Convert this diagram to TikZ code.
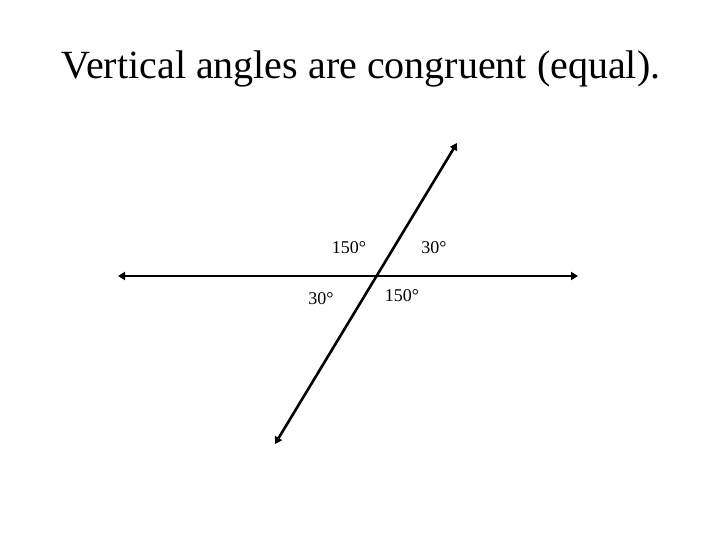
\documentclass[tikz,border=0pt]{standalone}
\usepackage{fontspec}
\setmainfont{Liberation Serif}
\usetikzlibrary{arrows.meta}
\tikzset{
  recta/.style={line width=2.6pt, {Triangle[length=7pt,width=8pt]}-{Triangle[length=7pt,width=8pt]}},
  angulo/.style={font=\fontsize{18}{20}\selectfont, inner sep=0pt}
}
\begin{document}
\begin{tikzpicture}[x=1pt, y=-1pt]
   \useasboundingbox (0,0) rectangle (720,540);
   %titulo
   \node (titulo) at (361,69) {\fontsize{40}{46}\selectfont Vertical angles are congruent (equal).};
   %extremos de las rectas
   \coordinate (hizq) at (118,276);
   \coordinate (hder) at (578,276);
   \coordinate (sarr) at (457,143);
   \coordinate (sabj) at (275,444);
   %rectas
   \draw[recta] (hizq) -- (hder);
   \draw[recta] (sabj) -- (sarr);
   %angulos
   \node[angulo] (a1) at (349,248) {150°};
   \node[angulo] (a2) at (434,248) {30°};
   \node[angulo] (a3) at (321,299) {30°};
   \node[angulo] (a4) at (402,296) {150°};
\end{tikzpicture}
\end{document}
